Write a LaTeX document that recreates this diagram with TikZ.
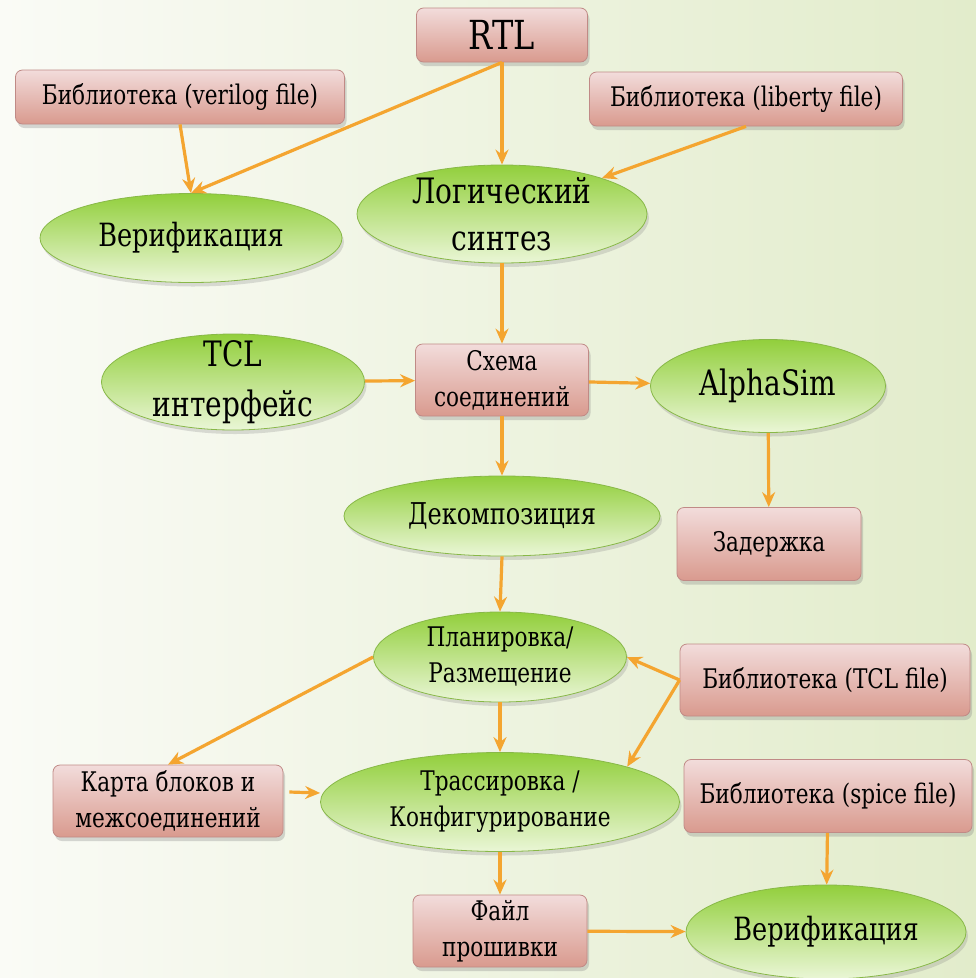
\documentclass[tikz,border=0pt]{standalone}
\usepackage{fontspec}
\setmainfont{DejaVu Serif}
\newfontfamily\flowrm{DejaVu Serif}[FakeStretch=0.80]
\usetikzlibrary{arrows.meta,shapes.geometric,shadows}
\definecolor{flowBoxTop}{HTML}{F2DCDB}
\definecolor{flowBoxBot}{HTML}{D99A8E}
\definecolor{flowBoxEdge}{HTML}{C08A86}
\definecolor{flowOvalTop}{HTML}{92CF3C}
\definecolor{flowOvalBot}{HTML}{EAF6D6}
\definecolor{flowOvalEdge}{HTML}{88B848}
\definecolor{flowArrow}{HTML}{F4A530}
\definecolor{flowBgLeft}{HTML}{FAFBF6}
\definecolor{flowBgRight}{HTML}{E2ECCB}

\begin{document}
\begin{tikzpicture}[x=1pt,y=-1pt,
  blk/.style={draw=flowBoxEdge,line width=0.8pt,rounded corners=7pt,
              top color=flowBoxTop,bottom color=flowBoxBot,
              drop shadow={opacity=0.3,shadow xshift=2pt,shadow yshift=-4pt},
              align=center,inner sep=0pt,font=\flowrm\fontsize{27}{36}\selectfont},
  oval/.style={ellipse,draw=flowOvalEdge,line width=0.8pt,
               top color=flowOvalTop,bottom color=flowOvalBot,
               drop shadow={opacity=0.25,shadow xshift=2pt,shadow yshift=-4pt},
               align=center,inner sep=-24pt,font=\flowrm\fontsize{32}{46}\selectfont},
  flow/.style={draw=flowArrow,line width=3.2pt,-{Stealth[length=15pt,width=13pt,inset=5pt]}}]
  \shade[left color=flowBgLeft,right color=flowBgRight] (0,0) rectangle (976,978);
  \useasboundingbox (0,0) rectangle (976,978);

  \node[blk,minimum width=171pt,minimum height=54pt,font=\flowrm\fontsize{40}{44}\selectfont] (rtl) at (502,35) {RTL};
  \node[blk,minimum width=329pt,minimum height=54pt] (libV) at (180,97) {Библиотека (verilog file)};
  \node[blk,minimum width=313pt,minimum height=54pt] (libL) at (746,99) {Библиотека (liberty file)};
  \node[oval,minimum width=302pt,minimum height=89pt] (verA) at (191,238) {Верификация};
  \node[oval,minimum width=290pt,minimum height=98pt,font=\flowrm\fontsize{35}{47}\selectfont] (synth) at (502,214) {Логический\\синтез};
  \node[oval,minimum width=263pt,minimum height=96pt,font=\flowrm\fontsize{35}{50}\selectfont] (tclIf) at (233,382) {TCL\\интерфейс};
  \node[blk,minimum width=173pt,minimum height=72pt] (net) at (502,380) {Схема\\соединений};
  \node[oval,minimum width=235pt,minimum height=93pt,font=\flowrm\fontsize{35}{40}\selectfont] (alpha) at (768,386) {AlphaSim};
  \node[oval,minimum width=316pt,minimum height=80pt,font=\flowrm\fontsize{30}{40}\selectfont] (decomp) at (502,516) {Декомпозиция};
  \node[blk,minimum width=184pt,minimum height=73pt] (delay) at (769,544) {Задержка};
  \node[oval,minimum width=253pt,minimum height=90pt,font=\flowrm\fontsize{27}{36}\selectfont] (place) at (500,657) {Планировка/\\Размещение};
  \node[blk,minimum width=290pt,minimum height=72pt] (libT) at (825,680) {Библиотека (TCL file)};
  \node[blk,minimum width=230pt,minimum height=72pt] (map) at (168,801) {Карта блоков и\\межсоединений};
  \node[oval,minimum width=359pt,minimum height=99pt,font=\flowrm\fontsize{27}{36}\selectfont] (route) at (500,802) {Трассировка /\\Конфигурирование};
  \node[blk,minimum width=288pt,minimum height=73pt] (libS) at (828,796) {Библиотека (spice file)};
  \node[blk,minimum width=174pt,minimum height=72pt] (fw) at (500,931) {Файл\\прошивки};
  \node[oval,minimum width=280pt,minimum height=94pt] (verB) at (826,932) {Верификация};

  \draw[flow] (rtl.south) -- (synth.north);
  \draw[flow] (rtl.south) -- (verA.north);
  \draw[flow] (libV.south) -- (verA.north);
  \draw[flow] (libL.south) -- (synth);
  \draw[flow] (synth.south) -- (net.north);
  \draw[flow] (tclIf) -- (net);
  \draw[flow] (net) -- (alpha);
  \draw[flow] (alpha) -- (delay);
  \draw[flow] (net.south) -- (decomp.north);
  \draw[flow] (decomp.south) -- (place.north);
  \draw[flow] (place.west) -- (map.north);
  \draw[flow] (place.south) -- (route.north);
  \draw[flow] (libT.west) -- (place.east);
  \draw[flow] (libT.west) -- (route.north east);
  \draw[flow] ([xshift=6pt,yshift=9pt]map.east) -- ([yshift=9pt]route.west);
  \draw[flow] (route.south) -- (fw.north);
  \draw[flow] (libS) -- (verB);
  \draw[flow] (fw) -- (verB);
\end{tikzpicture}
\end{document}
